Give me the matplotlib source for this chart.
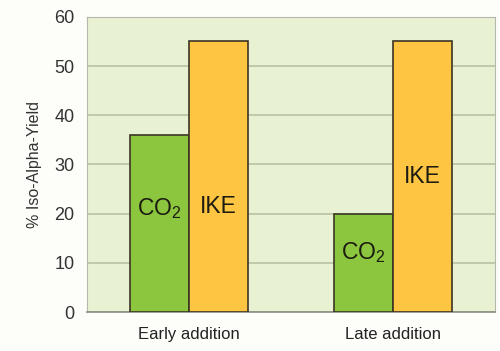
import matplotlib
matplotlib.use("Agg")
import matplotlib.pyplot as plt
import numpy as np

plt.rcParams["font.family"] = ["Liberation Sans", "DejaVu Sans"]
plt.rcParams["mathtext.fontset"] = "custom"
plt.rcParams["mathtext.rm"] = "Liberation Sans"

groups = ["Early addition", "Late addition"]
co2_yield = [36, 20]
ike_yield = [55, 55]
yticks = [0, 10, 20, 30, 40, 50, 60]

GREEN = "#8cc63e"
ORANGE = "#fec543"
EDGE = "#3b3524"

fig = plt.figure(figsize=(5.0, 3.51), dpi=100)
fig.patch.set_facecolor("#fdfdf9")
ax = fig.add_axes([0.174, 0.111, 0.816, 0.841])
ax.set_facecolor("#e9f1d3")

x = np.arange(len(groups))
w = 0.29
ax.bar(x - w / 2, co2_yield, w, color=GREEN, edgecolor=EDGE, linewidth=1.2, zorder=3)
ax.bar(x + w / 2, ike_yield, w, color=ORANGE, edgecolor=EDGE, linewidth=1.2, zorder=3)

# labels inside the bars
lbl = dict(ha="center", va="center", fontsize=16.5, color="#1c1c10", zorder=4)
ax.text(x[0] - w / 2, 21, r"CO$_\mathrm{2}$", **lbl)
ax.text(x[0] + w / 2, 21.5, "IKE", **lbl)
ax.text(x[1] - w / 2, 12, r"CO$_\mathrm{2}$", **lbl)
ax.text(x[1] + w / 2, 27.5, "IKE", **lbl)

ax.set_xlim(-0.5, 1.5)
ax.set_ylim(0, 60)
ax.set_yticks(yticks)
ax.set_yticklabels([str(t) for t in yticks], fontsize=13, color="#333333")
ax.set_xticks(x)
ax.set_xticklabels(groups, fontsize=12, color="#222222")
ax.tick_params(axis="y", length=0, pad=9)
ax.tick_params(axis="x", length=0, pad=11)
ax.set_ylabel("% Iso-Alpha-Yield", fontsize=11.5, color="#333333", labelpad=9)

ax.yaxis.grid(True, color="#b9c2a6", linewidth=1.2, zorder=1)
ax.set_axisbelow(True)
for side in ["left", "top", "right"]:
    ax.spines[side].set_color("#b5b8ad")
ax.spines["bottom"].set_color("#8a8d80")
ax.spines["bottom"].set_linewidth(1.2)

plt.savefig("out.png", dpi=100)
